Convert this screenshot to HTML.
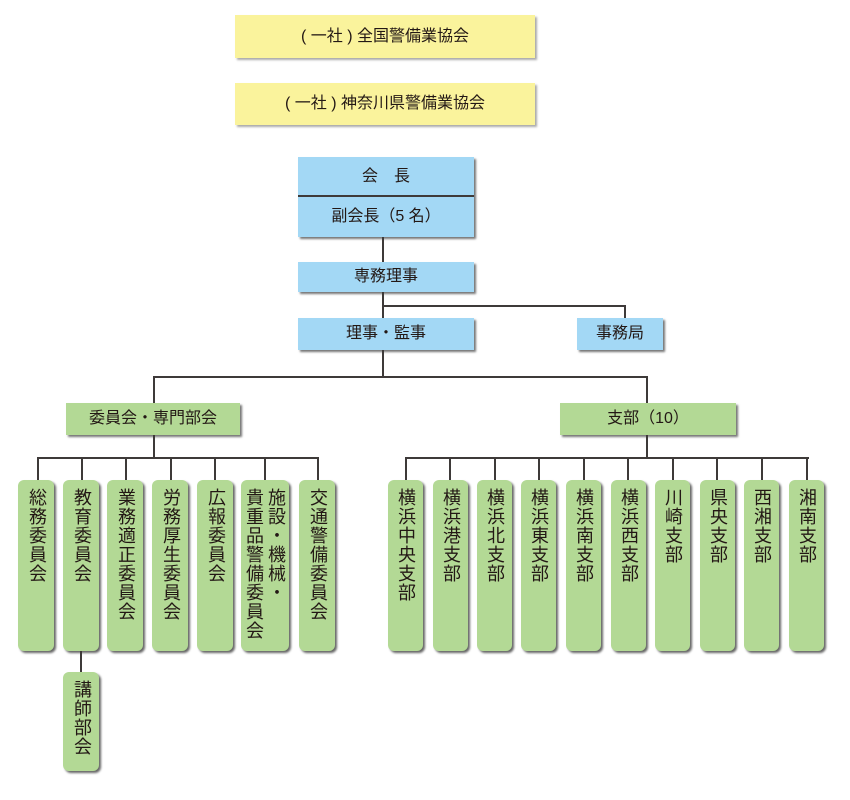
<!DOCTYPE html>
<html><head><meta charset="utf-8"><style>
body{margin:0;width:850px;height:800px;background:#fff;position:relative;overflow:hidden;font-family:"Liberation Sans","Noto Sans CJK JP",sans-serif;color:#231815}
div{position:absolute;box-sizing:border-box}
.y{background:#faf39c;box-shadow:2px 2px 2px #aaa;font-size:16px;text-align:center}
.b{background:#a3d8f5;box-shadow:2px 2px 2px #777;font-size:16px;text-align:center}
.g{background:#b3d995;box-shadow:2px 2px 2px #777;font-size:16px;text-align:center}
.v{background:#b3d995;box-shadow:2px 2px 2px #666;border-radius:6px;font-size:18px;writing-mode:vertical-rl;padding-top:8px;line-height:35px;letter-spacing:1px}
.h{background:#3e3a39;height:2px}
.l{background:#3e3a39;width:2px}
</style></head><body>
<div class="y" style="left:235px;top:15px;width:300px;height:43px;line-height:43px">( 一社 ) 全国警備業協会</div>
<div class="y" style="left:235px;top:83px;width:300px;height:42px;line-height:42px">( 一社 ) 神奈川県警備業協会</div>

<div class="b" style="left:298px;top:157px;width:176px;height:80px"></div>
<div class="b" style="left:298px;top:157px;width:176px;height:40px;line-height:40px;box-shadow:none;border-bottom:2px solid #3e3a39">会　長</div>
<div style="left:298px;top:199px;width:176px;height:38px;line-height:36px;text-align:center;font-size:16px">副会長（5 名）</div>
<div class="l" style="left:382px;top:237px;height:25px"></div>
<div class="b" style="left:298px;top:262px;width:176px;height:30px;line-height:30px">専務理事</div>
<div class="l" style="left:382px;top:292px;height:26px"></div>
<div class="h" style="left:382px;top:305px;width:244px"></div>
<div class="l" style="left:624px;top:305px;height:13px"></div>
<div class="b" style="left:577px;top:318px;width:86px;height:32px;line-height:32px">事務局</div>
<div class="b" style="left:298px;top:318px;width:176px;height:32px;line-height:32px">理事・監事</div>
<div class="l" style="left:382px;top:350px;height:28px"></div>
<div class="h" style="left:153px;top:376px;width:495px"></div>
<div class="l" style="left:153px;top:376px;height:27px"></div>
<div class="l" style="left:646px;top:376px;height:27px"></div>
<div class="g" style="left:66px;top:403px;width:174px;height:32px;line-height:32px">委員会・専門部会</div>
<div class="g" style="left:560px;top:403px;width:176px;height:32px;line-height:32px">支部（10）</div>

<div class="l" style="left:153px;top:435px;height:24px"></div>
<div class="h" style="left:37px;top:457px;width:282px"></div>
<div class="l" style="left:37px;top:457px;height:23px"></div>
<div class="l" style="left:81px;top:457px;height:23px"></div>
<div class="l" style="left:125px;top:457px;height:23px"></div>
<div class="l" style="left:170px;top:457px;height:23px"></div>
<div class="l" style="left:214px;top:457px;height:23px"></div>
<div class="l" style="left:264px;top:457px;height:23px"></div>
<div class="l" style="left:317px;top:457px;height:23px"></div>
<div class="v" style="left:18px;top:480px;width:36px;height:171px">総務委員会</div>
<div class="v" style="left:63px;top:480px;width:36px;height:171px">教育委員会</div>
<div class="v" style="left:107px;top:480px;width:36px;height:171px">業務適正委員会</div>
<div class="v" style="left:152px;top:480px;width:36px;height:171px">労務厚生委員会</div>
<div class="v" style="left:197px;top:480px;width:36px;height:171px">広報委員会</div>
<div class="v" style="left:241px;top:480px;width:48px;height:171px;line-height:22px;padding-right:2px">施設・機械・<br>貴重品警備委員会</div>
<div class="v" style="left:299px;top:480px;width:36px;height:171px">交通警備委員会</div>
<div class="l" style="left:80px;top:651px;height:21px"></div>
<div class="v" style="left:63px;top:672px;width:36px;height:99px">講師部会</div>

<div class="l" style="left:646px;top:435px;height:24px"></div>
<div class="h" style="left:405px;top:457px;width:404px"></div>
<div class="l" style="left:405px;top:457px;height:23px"></div>
<div class="l" style="left:449px;top:457px;height:23px"></div>
<div class="l" style="left:494px;top:457px;height:23px"></div>
<div class="l" style="left:538px;top:457px;height:23px"></div>
<div class="l" style="left:583px;top:457px;height:23px"></div>
<div class="l" style="left:627px;top:457px;height:23px"></div>
<div class="l" style="left:672px;top:457px;height:23px"></div>
<div class="l" style="left:716px;top:457px;height:23px"></div>
<div class="l" style="left:761px;top:457px;height:23px"></div>
<div class="l" style="left:806px;top:457px;height:23px"></div>
<div class="v" style="left:388px;top:480px;width:35px;height:171px">横浜中央支部</div>
<div class="v" style="left:433px;top:480px;width:35px;height:171px">横浜港支部</div>
<div class="v" style="left:477px;top:480px;width:35px;height:171px">横浜北支部</div>
<div class="v" style="left:521px;top:480px;width:35px;height:171px">横浜東支部</div>
<div class="v" style="left:566px;top:480px;width:35px;height:171px">横浜南支部</div>
<div class="v" style="left:611px;top:480px;width:35px;height:171px">横浜西支部</div>
<div class="v" style="left:655px;top:480px;width:35px;height:171px">川崎支部</div>
<div class="v" style="left:700px;top:480px;width:35px;height:171px">県央支部</div>
<div class="v" style="left:744px;top:480px;width:35px;height:171px">西湘支部</div>
<div class="v" style="left:789px;top:480px;width:35px;height:171px">湘南支部</div>
</body></html>
